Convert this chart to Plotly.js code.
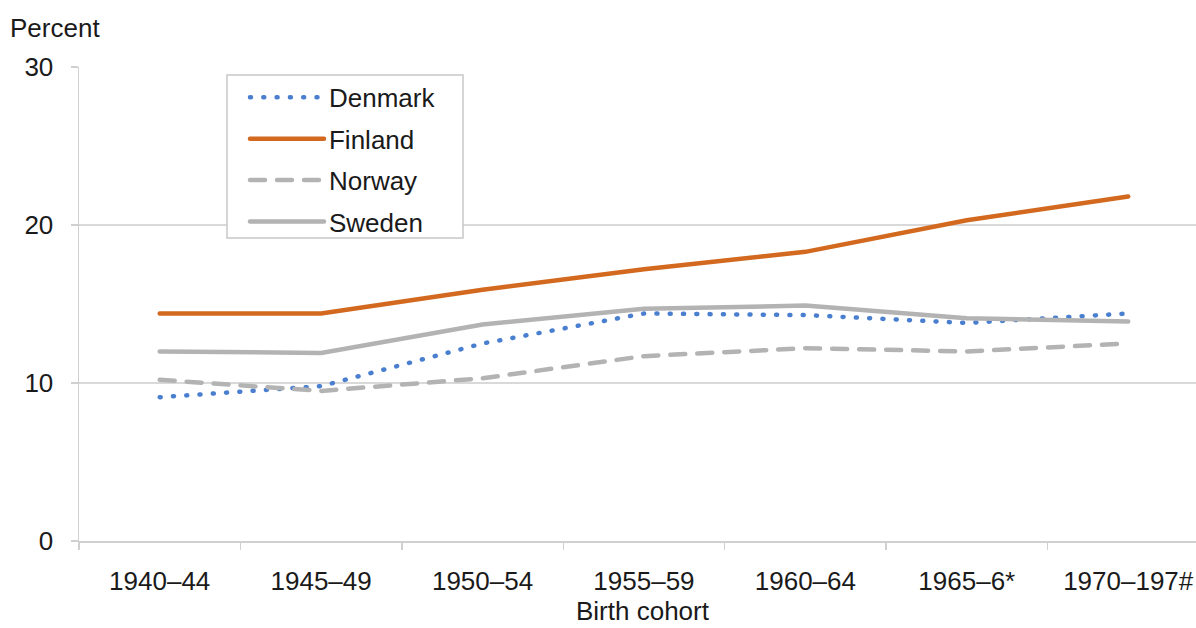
<!DOCTYPE html>
<html>
<head>
<meta charset="utf-8">
<script src="https://cdn.plot.ly/plotly-3.0.1.min.js"></script>
<style>
html,body{margin:0;padding:0;background:#fff;}
#chart{width:1196px;height:628px;}
.scatterlayer .js-line, .legendlines path { stroke-linecap: round; }
</style>
</head>
<body>
<div id="chart"></div>
<script>
const cohorts = ["1940–44", "1945–49", "1950–54", "1955–59", "1960–64", "1965–6*", "1970–197#"];
const denmark = [9.1, 9.8, 12.5, 14.4, 14.3, 13.8, 14.4];
const finland = [14.4, 14.4, 15.9, 17.2, 18.3, 20.3, 21.8];
const norway  = [10.2, 9.5, 10.3, 11.7, 12.2, 12.0, 12.5];
const sweden  = [12.0, 11.9, 13.7, 14.7, 14.9, 14.1, 13.9];
const yTicks = [0, 10, 20, 30];
const xTitle = "Birth cohort";
const yTitle = "Percent";

const FONT = "Liberation Sans, Arial, sans-serif";
const FS = 26;
const grey = "#b3b3b3";

const traces = [
  {name: "Denmark", y: denmark, line: {color: "#4a7fd0", width: 4.5, dash: "1px,12.3px"}, legendgroup: "a"},
  {name: "Finland", y: finland, line: {color: "#d2691f", width: 4.5}, legendgroup: "b"},
  {name: "Norway", y: norway, line: {color: grey, width: 4.5, dash: "15px,12px"}, legendgroup: "c"},
  {name: "Sweden", y: sweden, line: {color: grey, width: 4.5}, legendgroup: "d"}
].map(t => Object.assign({type: "scatter", mode: "lines", x: cohorts, hoverinfo: "skip"}, t));

const layout = {
  width: 1196, height: 628,
  margin: {l: 79, r: 0, t: 67, b: 87},
  paper_bgcolor: "#fff", plot_bgcolor: "#fff",
  font: {family: FONT, size: FS, color: "#1a1a1a"},
  showlegend: true,
  legend: {
    x: 0.1486, y: 0.9855, xanchor: "left", yanchor: "top",
    borderwidth: 0, bgcolor: "rgba(0,0,0,0)",
    font: {family: FONT, size: FS, color: "#1a1a1a"},
    itemwidth: 74, tracegroupgap: 4.6, traceorder: "grouped"
  },
  shapes: [{
    type: "rect", xref: "paper", yref: "paper", layer: "above",
    x0: (227 - 79) / 1117, x1: (463 - 79) / 1117,
    y0: (541 - 238) / 474, y1: (541 - 75) / 474,
    line: {color: "#c8c8c8", width: 1.5}, fillcolor: "#fff"
  }],
  xaxis: {
    type: "category", range: [-0.5, 6.42],
    showline: true, linecolor: "#d0d0d0", linewidth: 1.5,
    ticks: "outside", tickson: "boundaries", ticklen: 7, tickcolor: "#d0d0d0", tickwidth: 1.5,
    showgrid: false, zeroline: false, ticklabelstandoff: 16,
    tickfont: {family: FONT, size: FS, color: "#1a1a1a"}
  },
  yaxis: {
    range: [0, 30], tickvals: yTicks, ticktext: yTicks.map(String),
    showline: true, linecolor: "#d0d0d0", linewidth: 1.5,
    ticks: "outside", ticklen: 7, tickcolor: "#d0d0d0", tickwidth: 1.5,
    showgrid: true, gridcolor: "#d9d9d9", gridwidth: 1.5, zeroline: false,
    ticklabelstandoff: 12,
    tickfont: {family: FONT, size: FS, color: "#1a1a1a"}
  },
  annotations: [{
    text: yTitle, xref: "paper", yref: "paper", x: -0.0636, y: 1.0, yshift: 39,
    xanchor: "left", yanchor: "middle", showarrow: false,
    font: {family: FONT, size: FS, color: "#1a1a1a"}
  }, {
    text: xTitle, xref: "paper", yref: "paper", x: 0.505, y: -0.1603, yshift: 6,
    xanchor: "center", yanchor: "middle", showarrow: false, borderpad: 0,
    font: {family: FONT, size: FS, color: "#1a1a1a"}
  }]
};

Plotly.newPlot("chart", traces, layout, {displayModeBar: false, staticPlot: true});
</script>
</body>
</html>
